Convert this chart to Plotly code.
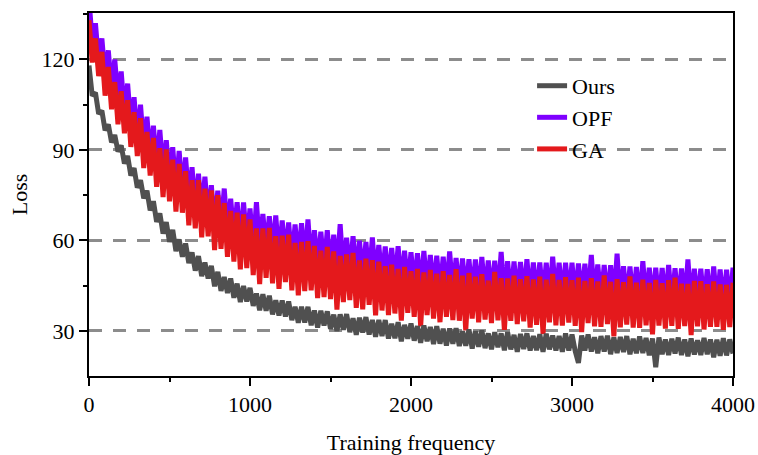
import plotly.graph_objects as go

# x positions: training frequency sampled every 20 iterations
steps = list(range(0, 4001, 20))

ours = [
    118, 108, 109, 102, 103,  96.5, 98.5, 92.5, 95, 89.5,
    91.5, 85.5, 88, 81.5, 84,  77.5, 80, 74, 76.5, 70,
    73, 66.2, 69, 62.3, 66.1,  59.5, 63.5, 56.5, 60.3, 54.6,
    59, 52.5, 56, 50, 54.8,  48.2, 52.7, 47.4, 51.6, 44.8,
    49.6, 43.3, 47.9, 42.6, 47.4,  41, 45.7, 39.6, 44.9, 39.8,
    44.3, 38.3, 42.4, 36.9, 42.2,  36.7, 41.7, 35.5, 40.2, 35.1,
    40.1, 34.8, 39.8, 33.6, 38,  32.7, 38, 32.8, 38, 31.9,
    36.8, 31.1, 36.7, 31.8, 36.5,  30.7, 35.4, 30, 35.5, 30.4,
    35.6, 29.6, 34.2, 28.7, 34.4,  29.5, 34.6, 28.8, 33.6, 28.1,
    33.6, 28.3, 33.6, 27.5, 32.4,  27.6, 32.9, 26.6, 32, 27.4,
    32.5, 26.8, 31.6, 26.1, 31.8,  26.6, 31.3, 25.7, 31.6, 25.8,
    30.7, 25.2, 30.8, 25.8, 30.9,  25, 29.9, 25.1, 30.5, 24.2,
    29.9, 24.8, 30.2, 24.3, 29.2,  23.9, 29.6, 24.6, 29.2, 23.6,
    29.6, 23.9, 28.7, 23.1, 29,  24, 29.2, 23.5, 28.3, 23.6,
    28.9, 23.1, 29.1, 23.9, 28.5,  23.5, 28.3, 23.1, 29.2, 23.5,
    28.8, 23.3, 19.4, 28.5, 23.5,  28.8, 23.2, 27.9, 22.6, 28.3,
    23.2, 28.4, 22.3, 27.8, 22.7,  28, 23, 28.3, 22.3, 27.4,
    22.6, 28.2, 22.7, 27.7, 21.9,  27.5, 18, 27.8, 22.3, 27.2,
    22, 27.4, 22.5, 27.8, 22,  27.2, 21.6, 27.5, 22.2, 26.9,
    22, 27.7, 22.3, 27.2, 21.3,  27.1, 21.8, 27.6, 21.9, 27.2,
    22.5,
]

opf = [
    140, 126, 132, 119, 127,  114, 123, 110, 120, 107,
    116, 102, 112, 98, 107.5,  93.5, 105, 90.5, 101, 87.5,
    98, 84.8, 96.6, 82.4, 93.2,  80, 90.9, 76.8, 89.7, 75.6,
    87.5, 73.4, 84.3, 70.2, 82.1,  69, 81.1, 67.2, 78.3, 64.4,
    76.5, 63.8, 77.2, 62.5, 73.8,  61.2, 72.7, 59.2, 72.6, 59.1,
    70.6, 57.2, 72.7, 57.3, 68.8,  56.4, 68, 55.7, 68.3, 54,
    66.6, 54.3, 66, 52.6, 65.3,  53, 65.7, 52.3, 67, 51.7,
    63.4, 51.1, 62.9, 50.6, 63.4,  50.1, 61.9, 49.6, 65.4, 49.1,
    60.9, 48.7, 61.4, 48.2, 59.9,  47.7, 59.5, 47.2, 61, 46.7,
    58.5, 46.3, 58, 45.8, 57.5,  45.3, 58.1, 44.8, 56.6, 44.3,
    56.1, 43.9, 55.8, 43.6, 56.5,  43.3, 55.2, 43, 54.9, 42.7,
    54.6, 42.5, 56.4, 42.3, 54.2,  42.1, 54, 41.9, 53.8, 41.8,
    53.7, 41.6, 54.5, 41.5, 53.4,  41.3, 53.3, 41.2, 56.2, 41.1,
    53.1, 41, 53, 40.9, 52.9,  40.9, 53.8, 40.8, 52.7, 40.7,
    52.7, 40.7, 52.6, 40.6, 54.6,  40.6, 52.6, 40.6, 52.6, 40.6,
    52.6, 40.5, 52.4, 40.4, 52.3,  40.2, 55.2, 40.1, 52, 40,
    51.9, 39.8, 51.8, 39.7, 55.6,  39.6, 51.5, 39.4, 51.4, 39.3,
    51.2, 39.2, 53.1, 39.1, 51,  39, 51, 38.9, 50.9, 38.9,
    51.9, 38.8, 50.8, 38.8, 50.7,  38.7, 53.7, 38.6, 50.6, 38.6,
    50.6, 38.5, 50.5, 38.5, 51.4,  38.4, 50.4, 38.3, 50.3, 38.3,
    51,
]

ga = [
    133, 119, 127, 114.5, 122.5,  108, 117.5, 103.5, 112.5, 98.5,
    109.5, 95.5, 106.5, 91, 102.5,  88, 100.5, 84, 96, 81.5,
    94, 77.8, 90.6, 74.4, 90.2,  73, 86.8, 69.6, 85.4, 69.2,
    83, 65, 80, 64, 80,  61, 77.2, 61.4, 76.6, 56.8,
    75, 57.2, 72.4, 54.6, 69.8,  53, 69.2, 50.4, 68.6, 50.8,
    67, 48.5, 64, 45.5, 64,  47.6, 64.2, 45.8, 61.4, 44,
    61.6, 46.2, 61.9, 43.5, 59.2,  41.8, 59.5, 43.2, 59.8, 43.5,
    58.2, 40.9, 56.6, 41.2, 57.9,  40.6, 56.4, 37.1, 54.9, 39.6,
    55.4, 40.2, 55.9, 37.7, 53.4,  37.2, 54, 38.7, 53.5, 35.2,
    53, 36.8, 51.5, 35.3, 52,  35.8, 50.6, 33.4, 51.2, 36,
    49.8, 34.7, 50.6, 31.5, 49.4,  35.3, 50.2, 34.1, 49, 32.9,
    49.8, 34.7, 48.6, 33.6, 50.5,  33.4, 48.3, 30.2, 49.2, 34.1,
    48, 32.9, 48.8, 33.8, 46.7,  32.6, 49.6, 33.5, 47.5, 30.4,
    47.4, 33.4, 48.3, 32.3, 47.2,  33.2, 48.2, 31.1, 47.1, 32,
    48, 29, 47, 32.9, 48.9,  31.9, 46.9, 31.8, 47.8, 32.8,
    46.8, 31.7, 47.7, 29.6, 46.6,  32.6, 47.5, 31.5, 46.4, 31.4,
    48.4, 32.3, 46.3, 28.2, 47.2,  31.2, 46.2, 32.1, 48.1, 31.1,
    46, 31, 47, 31.9, 45.9,  28.9, 46.9, 31.8, 45.8, 30.8,
    46.8, 31.7, 47.7, 30.7, 45.7,  31.6, 45.6, 28.6, 46.6, 31.5,
    46.5, 30.5, 45.5, 31.4, 46.4,  31.4, 45.4, 30.4, 45.3, 31.3,
    46,
]

y_ticks = [30, 60, 90, 120]
x_ticks = [0, 1000, 2000, 3000, 4000]

FONT = "Liberation Serif, Times New Roman, serif"

fig = go.Figure()
fig.add_trace(go.Scatter(x=steps, y=opf, mode="lines", name="OPF",
                         line=dict(color="#7f00ff", width=5, simplify=False), legendrank=2))
fig.add_trace(go.Scatter(x=steps, y=ga, mode="lines", name="GA",
                         line=dict(color="#e4191c", width=5, simplify=False), legendrank=3))
fig.add_trace(go.Scatter(x=steps, y=ours, mode="lines", name="Ours",
                         line=dict(color="#505050", width=5, simplify=False), legendrank=1))

fig.update_layout(
    width=758, height=455,
    margin=dict(l=89, r=25, t=13, b=79),
    paper_bgcolor="white", plot_bgcolor="white",
    font=dict(family=FONT, size=22, color="black"),
    showlegend=True,
    legend=dict(x=0.688, y=0.857, xanchor="left", yanchor="top",
                bgcolor="rgba(0,0,0,0)", borderwidth=0,
                font=dict(family=FONT, size=22, color="black")),
)

fig.update_xaxes(
    range=[0, 4000], tickvals=x_ticks, ticks="outside", ticklen=8, tickwidth=2,
    tickcolor="black", showline=True, linecolor="black", linewidth=2,
    mirror=True, showgrid=False, zeroline=False, automargin=False,
    minor=dict(dtick=500, tick0=0, ticks="outside", ticklen=4, tickwidth=2,
               tickcolor="black", showgrid=False),
    title=dict(text="Training frequency", font=dict(family=FONT, size=22), standoff=20),
)
fig.update_yaxes(
    range=[15.07, 135.4], tickvals=y_ticks, ticks="outside", ticklen=8, tickwidth=2,
    tickcolor="black", showline=True, linecolor="black", linewidth=2,
    mirror=True, showgrid=True, gridcolor="#8c8c8c", gridwidth=2.5,
    griddash="13px,11px", zeroline=False, automargin=False,
    minor=dict(dtick=15, tick0=0, ticks="outside", ticklen=4, tickwidth=2,
               tickcolor="black", showgrid=False),
    title=dict(text="Loss", font=dict(family=FONT, size=22), standoff=8),
)

fig.write_html("out.html")
